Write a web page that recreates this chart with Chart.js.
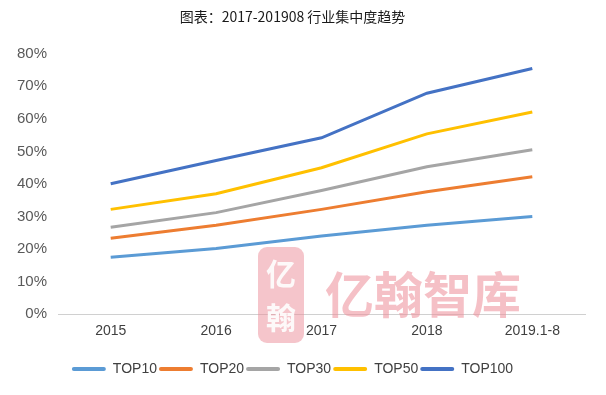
<!DOCTYPE html>
<html>
<head>
<meta charset="utf-8">
<script src="https://cdn.jsdelivr.net/npm/chart.js@4.4.1/dist/chart.umd.min.js"></script>
<style>
  html, body { margin: 0; padding: 0; background: #fff; }
  #wrap { width: 606px; height: 395px; }
</style>
</head>
<body>
<div id="wrap"><canvas id="myChart" width="606" height="395"></canvas></div>
<script>
var labels = ['2015', '2016', '2017', '2018', '2019.1-8'];
var top10 = [17.5, 20.2, 24.0, 27.3, 30.0];
var top20 = [23.3, 27.3, 32.2, 37.6, 42.2];
var top30 = [26.7, 31.2, 38.0, 45.3, 50.5];
var top50 = [32.2, 37.0, 45.0, 55.4, 62.1];
var top100 = [40.1, 47.2, 54.2, 67.9, 75.5];
var yTicks = [0, 10, 20, 30, 40, 50, 60, 70, 80];

var font = '"Liberation Sans", Arial, "Noto Sans CJK SC", sans-serif';

function line(name, values, color) {
    return {
        label: name,
        data: values,
        borderColor: color,
        backgroundColor: color,
        borderWidth: 3,
        pointRadius: 0,
        pointHoverRadius: 0,
        tension: 0,
        fill: false
    };
}

// faint logo watermark that sits over the plot
var watermark = {
    id: 'watermark',
    afterDraw: function (chart) {
        var ctx = chart.ctx;
        ctx.save();
        ctx.fillStyle = 'rgba(236,140,152,0.5)';
        ctx.beginPath();
        ctx.roundRect(258, 247, 46, 96, 9);
        ctx.fill();
        ctx.fillStyle = 'rgba(255,255,255,0.9)';
        ctx.textAlign = 'center';
        ctx.textBaseline = 'middle';
        ctx.font = 'bold 30px "Noto Sans CJK SC"';
        ctx.fillText('亿', 281, 274);
        ctx.fillText('翰', 281, 318);
        ctx.fillStyle = 'rgba(236,140,152,0.55)';
        ctx.font = 'bold 49px "Noto Sans CJK SC"';
        ctx.textAlign = 'left';
        ctx.fillText('亿翰智库', 325, 294);
        ctx.restore();
    }
};

var ctx = document.getElementById('myChart').getContext('2d');
var myChart = new Chart(ctx, {
    type: 'line',
    data: {
        labels: labels,
        datasets: [
            line('TOP10', top10, '#5B9BD5'),
            line('TOP20', top20, '#ED7D31'),
            line('TOP30', top30, '#A5A5A5'),
            line('TOP50', top50, '#FFC000'),
            line('TOP100', top100, '#4472C4')
        ]
    },
    options: {
        responsive: false,
        animation: false,
        layout: { padding: { top: 6, right: 21, bottom: 9, left: 0 } },
        plugins: {
            title: {
                display: true,
                text: '图表：2017-201908 行业集中度趋势',
                color: '#1a1a1a',
                font: { family: '"Noto Sans CJK SC", sans-serif', size: 14, weight: 'normal' },
                padding: { top: 2, bottom: 29 }
            },
            legend: {
                position: 'bottom',
                labels: {
                    color: '#404040',
                    font: { family: font, size: 14 },
                    boxWidth: 34,
                    boxHeight: 4,
                    padding: 2,
                    generateLabels: function (chart) {
                        var items = Chart.defaults.plugins.legend.labels.generateLabels(chart);
                        items.forEach(function (it) {
                            it.lineWidth = 0;
                            it.borderRadius = 2;
                        });
                        return items;
                    }
                }
            },
            tooltip: { enabled: false }
        },
        scales: {
            x: {
                offset: true,
                grid: { display: false },
                border: { display: true, color: '#d0d0d0', width: 1 },
                ticks: { color: '#404040', font: { family: font, size: 14 }, padding: 1 },
                afterFit: function (scale) { scale.height += 19; }
            },
            y: {
                min: 0,
                max: 80,
                afterBuildTicks: function (scale) {
                    scale.ticks = yTicks.map(function (v) { return { value: v }; });
                },
                afterFit: function (scale) { scale.width = 58; },
                grid: { display: false, drawTicks: false },
                border: { display: false },
                ticks: {
                    color: '#595959',
                    font: { family: font, size: 15 },
                    padding: 11,
                    callback: function (v) { return v + '%'; }
                }
            }
        }
    },
    plugins: [watermark]
});
</script>
</body>
</html>
